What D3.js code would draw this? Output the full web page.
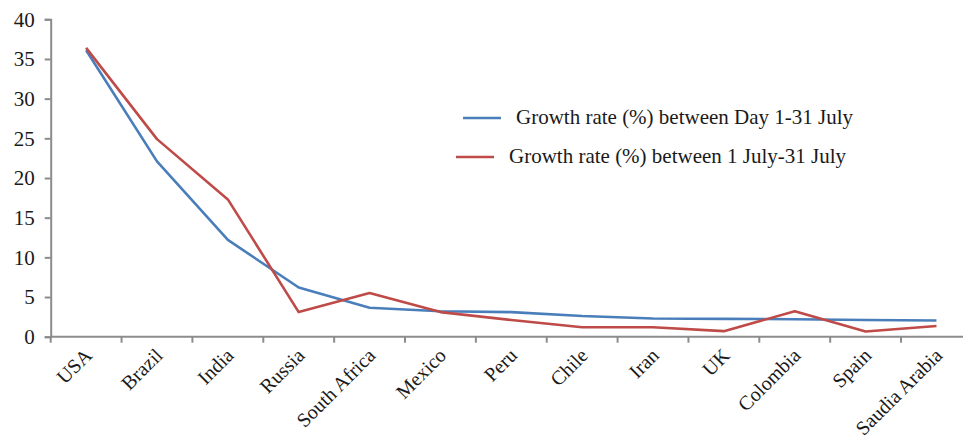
<!DOCTYPE html>
<html>
<head>
<meta charset="utf-8">
<script src="https://cdn.jsdelivr.net/npm/d3@7"></script>
<style>
  html, body { margin: 0; padding: 0; background: #fff; }
  svg { display: block; }
  text { font-family: "Liberation Serif", "Times New Roman", serif; fill: #1a1a1a; }
</style>
</head>
<body>
<svg id="chart" width="963" height="439"></svg>
<script>
// Countries along the x axis
const countries = ["USA", "Brazil", "India", "Russia", "South Africa", "Mexico", "Peru",
  "Chile", "Iran", "UK", "Colombia", "Spain", "Saudia Arabia"];

// Growth rate (%) between Day 1-31 July
const growthDay = [36.1, 22.1, 12.2, 6.2, 3.65, 3.2, 3.1, 2.6, 2.3, 2.25, 2.2, 2.1, 2.05];

// Growth rate (%) between 1 July-31 July
const growthJuly = [36.4, 24.9, 17.3, 3.1, 5.5, 3.1, 2.1, 1.2, 1.2, 0.7, 3.2, 0.65, 1.35];

const yTicks = [0, 5, 10, 15, 20, 25, 30, 35, 40];

const seriesNames = ["Growth rate (%) between Day 1-31 July", "Growth rate (%) between 1 July-31 July"];
const seriesColors = ["#4a7ebb", "#be4b48"];

const svg = d3.select("#chart");
const axisColor = "#8c8c8c";

const x = d3.scaleBand().domain(countries).range([50.7, 971.9]).padding(0);
const y = d3.scaleLinear().domain([0, 40]).range([336.7, 19.3]);

// y axis
const yAxis = svg.append("g").attr("transform", "translate(50.7,0)")
  .call(d3.axisLeft(y).tickValues(yTicks).tickSize(6).tickPadding(10));
yAxis.select(".domain").attr("stroke", axisColor).attr("stroke-width", 2);
yAxis.selectAll(".tick line").attr("stroke", axisColor).attr("stroke-width", 2);
yAxis.selectAll(".tick text").attr("font-size", 21).attr("fill", "#1a1a1a")
  .style("font-family", "Liberation Serif, serif");

// x axis: ticks sit on the boundaries between categories
const xAxisG = svg.append("g").attr("transform", `translate(0,${y(0)})`);
xAxisG.append("line").attr("x1", 50.7).attr("x2", 963).attr("y1", 0).attr("y2", 0)
  .attr("stroke", axisColor).attr("stroke-width", 2);
xAxisG.selectAll("line.tk").data(countries).join("line").attr("class", "tk")
  .attr("x1", d => x(d)).attr("x2", d => x(d)).attr("y1", 0).attr("y2", 6)
  .attr("stroke", axisColor).attr("stroke-width", 2);

svg.append("g").selectAll("text").data(countries).join("text")
  .attr("transform", d => `translate(${x(d) + x.bandwidth() / 2 + 7},${y(0) + 20}) rotate(-45)`)
  .attr("text-anchor", "end")
  .attr("font-size", 20)
  .text(d => d);

// series lines
const line = d3.line().x((d, i) => x(countries[i]) + x.bandwidth() / 2).y(d => y(d));
[growthDay, growthJuly].forEach((vals, k) => {
  svg.append("path").datum(vals)
    .attr("fill", "none")
    .attr("stroke", seriesColors[k])
    .attr("stroke-width", 2.6)
    .attr("stroke-linejoin", "round")
    .attr("d", line);
});

// legend
const legendRows = [
  { lx: 463, ly: 118, tx: 516 },
  { lx: 456, ly: 157, tx: 509 }
];
legendRows.forEach((r, k) => {
  svg.append("line").attr("x1", r.lx).attr("x2", r.lx + 38).attr("y1", r.ly).attr("y2", r.ly)
    .attr("stroke", seriesColors[k]).attr("stroke-width", 2.6);
  svg.append("text").attr("x", r.tx).attr("y", r.ly + 6).attr("font-size", 21).text(seriesNames[k]);
});
</script>
</body>
</html>
